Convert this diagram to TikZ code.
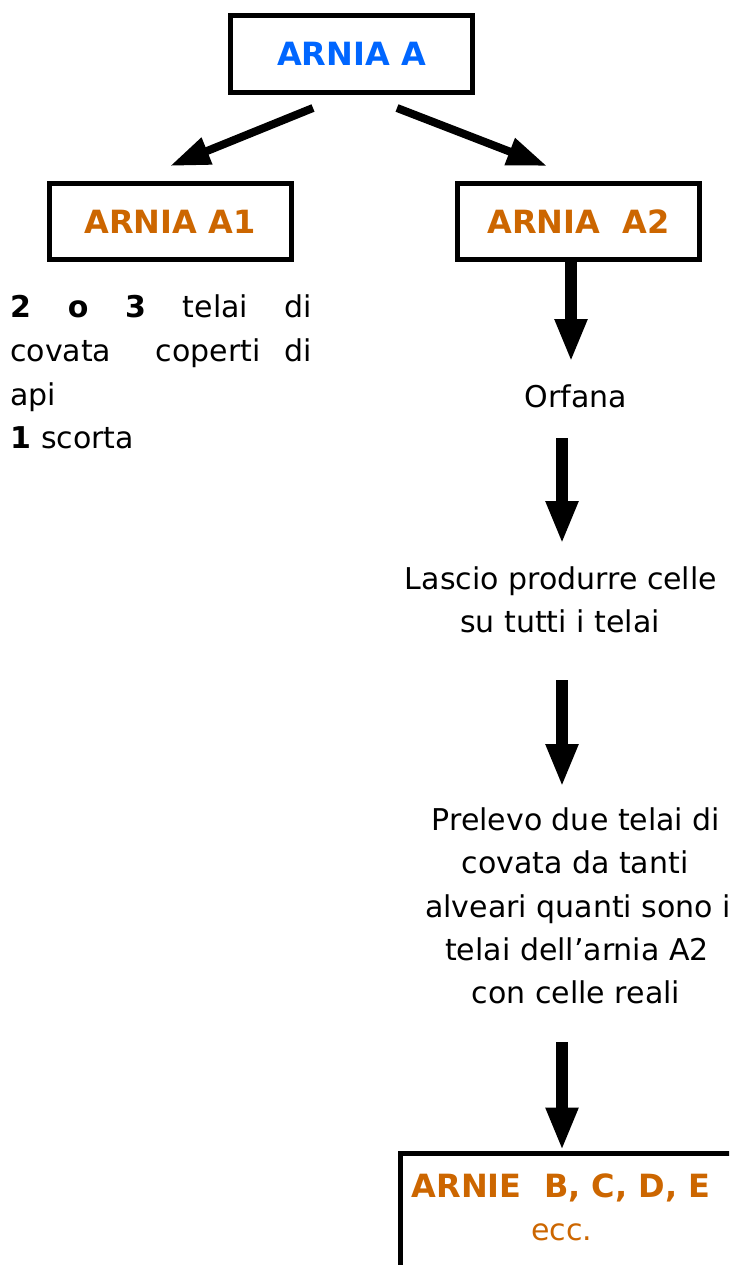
\documentclass[tikz,border=0pt]{standalone}
\usepackage{fontspec}
\setmainfont{DejaVu Sans}
\usetikzlibrary{arrows.meta}
\definecolor{hdrblue}{RGB}{0,102,255}
\definecolor{hdrorange}{RGB}{204,102,0}
\begin{document}
\begin{tikzpicture}[x=1pt,y=-1pt,
  hbox/.style={draw, line width=5pt, inner sep=0pt, minimum width=242pt, minimum height=75pt, font=\fontsize{32}{38}\selectfont\bfseries},
  body/.style={inner sep=0pt, anchor=base, font=\fontsize{30}{43.5}\selectfont},
  leftline/.style={inner sep=0pt, anchor=base west, text width=302pt, font=\fontsize{30}{43.5}\selectfont},
  hdrtext/.style={inner sep=0pt, anchor=base, text=hdrorange, font=\fontsize{32}{38}\selectfont\bfseries},
  diagarrow/.style={line width=8pt, -{Triangle[length=40pt,width=27pt]}},
  downarrow/.style={line width=11.5pt, -{Triangle[length=43pt,width=30pt]}}]
\clip (0,0) rectangle (729,1265);
% header boxes
\node[hbox, text=hdrblue, minimum height=77pt] (A) at (351.6,54) {ARNIA A};
\node[hbox, text=hdrorange] (A1) at (170,221.5) {ARNIA A1};
\node[hbox, text=hdrorange] (A2) at (578.5,221.5) {ARNIA\ \ A2};
% diagonal arrows
\coordinate (dlt) at (313,108);
\coordinate (dlh) at (170,166);
\coordinate (drt) at (397,108);
\coordinate (drh) at (547,166);
\draw[diagarrow] (dlt) -- (dlh);
\draw[diagarrow] (drt) -- (drh);
% left column text
\node[leftline] (l1) at (10,317) {\textbf{2}\hfill\textbf{o}\hfill\textbf{3}\hfill telai\hfill di};
\node[leftline] (l2) at (10,361) {covata\hspace{20pt}\hfill coperti\hfill di};
\node[leftline] (l3) at (10,405) {api};
\node[leftline] (l4) at (10,448) {\textbf{1} scorta};
% right column
\coordinate (a1h) at (571,362);
\draw[downarrow] (A2.south -| a1h) -- (a1h);
\node[body] (orf) at (576,407) {Orfana};
\coordinate (a2t) at (562,438);
\coordinate (a2h) at (562,544);
\draw[downarrow] (a2t) -- (a2h);
\node[body] (las1) at (561,589) {Lascio produrre celle};
\node[body] (las2) at (560,632) {su tutti i telai};
\coordinate (a3t) at (562,680);
\coordinate (a3h) at (562,787);
\draw[downarrow] (a3t) -- (a3h);
\node[body] (pr1) at (576,830) {Prelevo due telai di};
\node[body] (pr2) at (575,873) {covata da tanti};
\node[body] (pr3) at (578,917) {alveari quanti sono i};
\node[body] (pr4) at (577,960) {telai dell’arnia A2};
\node[body] (pr5) at (576,1003) {con celle reali};
% bottom box
\node[draw, line width=5pt, inner sep=0pt, minimum width=400pt, minimum height=300pt, anchor=north west] (E) at (398,1150.5) {};
\coordinate (a4t) at (562,1042);
\draw[downarrow] (a4t) -- (a4t |- E.north);
\node[hdrtext] (et1) at (561,1197) {ARNIE\ \ B, C, D, E};
\node[body, text=hdrorange] (et2) at (562,1240) {ecc.};
\end{tikzpicture}
\end{document}
